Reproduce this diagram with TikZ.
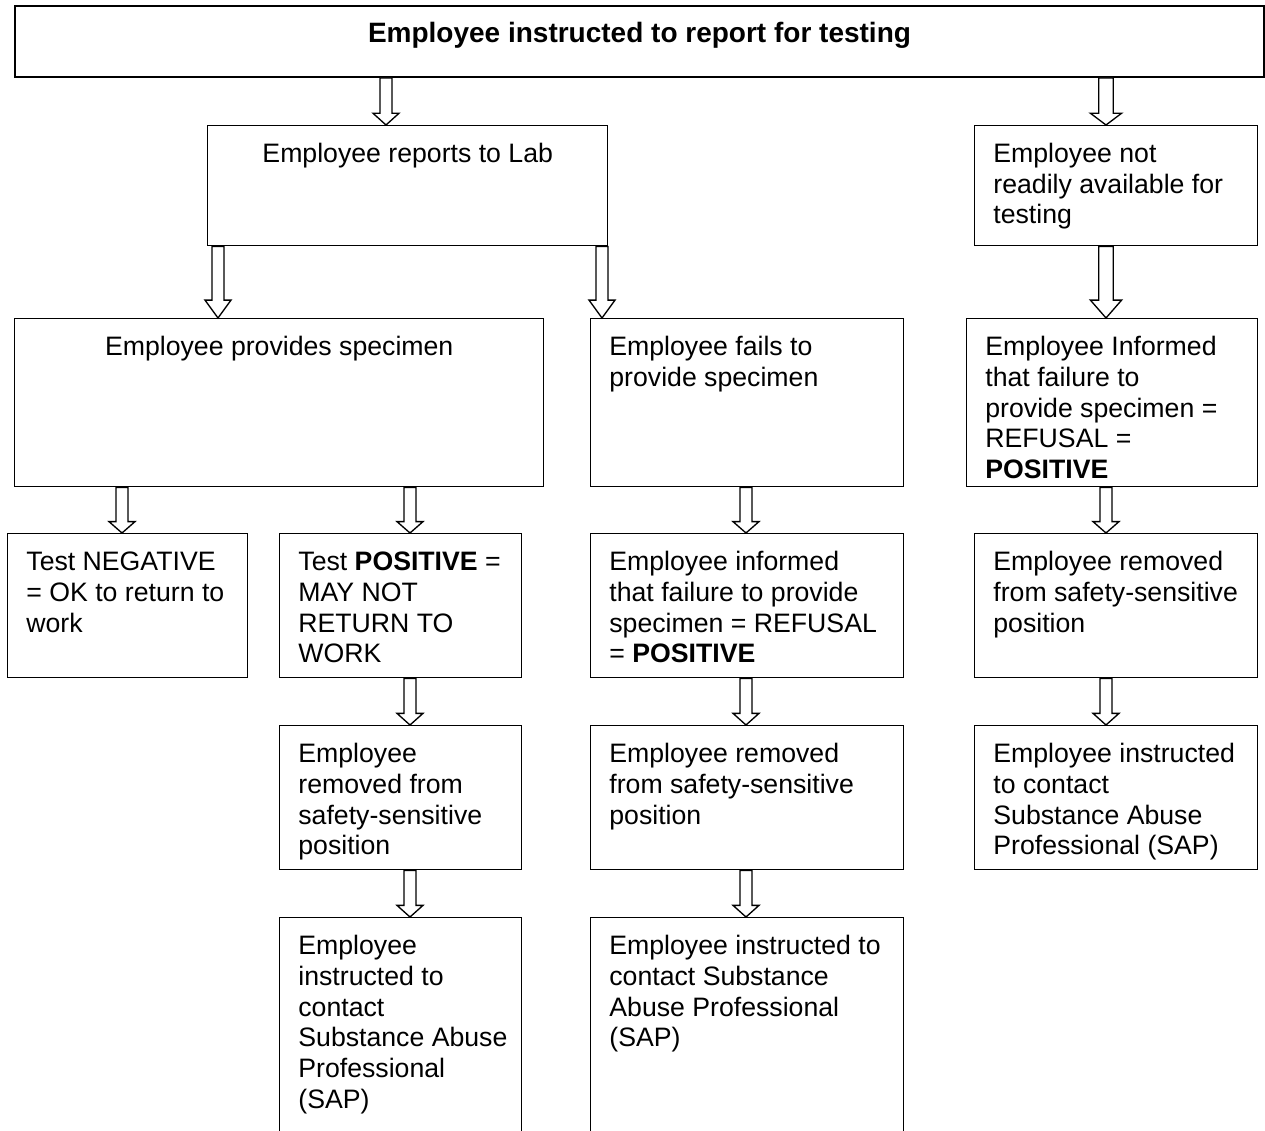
\documentclass[tikz,border=0pt]{standalone}
\usepackage{fontspec}
\setmainfont{Liberation Sans}
\usetikzlibrary{calc}

% text of one box: [align]{width px}{height px}{lines}
\newcommand{\boxtext}[4][l]{%
	\parbox[t][\dimexpr#3pt*3/4\relax][t]{\dimexpr#2pt*3/4-28pt\relax}{%
		\vspace*{11.6pt}%
		\ifx l#1\raggedright\else\centering\fi
		\begin{tabular}[t]{@{}#1@{}}#4\end{tabular}}}

% hollow block arrow: [width factor]{upper box}{lower box}{x px}
\newcommand{\blockarr}[4][1]{%
	\path[blockarrow] let \p1=(#4,0 |- #2.south), \p2=(#4,0 |- #3.north),
	\n1={(\y1-\y2)/4}, \n2={4.5pt*#1}, \n3={9.75pt*#1} in
	(\x1-\n2,\y1) -- (\x1-\n2,\y2+\n1) -- (\x1-\n3,\y2+\n1) -- (\x2,\y2)
	-- (\x1+\n3,\y2+\n1) -- (\x1+\n2,\y2+\n1) -- (\x1+\n2,\y1) -- cycle;}

\tikzset{
	stepbox/.style={draw, line width=1.1pt, anchor=north west,
		inner xsep=14pt, inner ysep=0pt, font=\fontsize{20}{23}\selectfont},
	blockarrow/.style={draw, fill=white, line width=1pt, line join=miter}
}

\begin{document}
\begin{tikzpicture}[x=0.75pt, y=-0.75pt]
	
	% ----------------------------
	% 0) Canvas (pixel grid, y down)
	% ----------------------------
	\useasboundingbox (0,0) rectangle (1265,1131);
	\clip (0,0) rectangle (1265,1131);
	
	% ----------------------------
	% 1) Title box
	% ----------------------------
	\node[stepbox, line width=1.5pt, font=\fontsize{21}{23}\selectfont] (top) at (14,5)
	{\boxtext[c]{1249}{71}{\textbf{Employee instructed to report for testing}}};
	
	% ----------------------------
	% 2) Lab / not available
	% ----------------------------
	\node[stepbox] (lab) at (207,125) {\boxtext[c]{400}{120}{Employee reports to Lab}};
	\node[stepbox] (away) at (974,125)
	{\boxtext{283}{120}{Employee not\\readily available for\\testing}};
	
	% ----------------------------
	% 3) Specimen given / not given
	% ----------------------------
	\node[stepbox] (gives) at (14,318) {\boxtext[c]{529}{168}{Employee provides specimen}};
	\node[stepbox] (fails) at (590,318) {\boxtext{313}{168}{Employee fails to\\provide specimen}};
	\node[stepbox] (toldR) at (966,318)
	{\boxtext{291}{168}{Employee Informed\\that failure to\\provide specimen =\\REFUSAL =\\\textbf{POSITIVE}}};
	
	% ----------------------------
	% 4) Results
	% ----------------------------
	\node[stepbox] (neg) at (7,533)
	{\boxtext{240}{144}{Test NEGATIVE\\= OK to return to\\work}};
	\node[stepbox] (pos) at (279,533)
	{\boxtext{242}{144}{Test \textbf{POSITIVE} =\\MAY NOT\\RETURN TO\\WORK}};
	\node[stepbox] (toldM) at (590,533)
	{\boxtext{313}{144}{Employee informed\\that failure to provide\\specimen = REFUSAL\\= \textbf{POSITIVE}}};
	\node[stepbox] (offR) at (974,533)
	{\boxtext{283}{144}{Employee removed\\from safety-sensitive\\position}};
	
	% ----------------------------
	% 5) Removed / SAP
	% ----------------------------
	\node[stepbox] (offL) at (279,725)
	{\boxtext{242}{144}{Employee\\removed from\\safety-sensitive\\position}};
	\node[stepbox] (offM) at (590,725)
	{\boxtext{313}{144}{Employee removed\\from safety-sensitive\\position}};
	\node[stepbox] (sapR) at (974,725)
	{\boxtext{283}{144}{Employee instructed\\to contact\\Substance Abuse\\Professional (SAP)}};
	
	% ----------------------------
	% 6) SAP (cut at the bottom)
	% ----------------------------
	\node[stepbox] (sapL) at (279,917)
	{\boxtext{242}{260}{Employee\\instructed to\\contact\\Substance Abuse\\Professional\\(SAP)}};
	\node[stepbox] (sapM) at (590,917)
	{\boxtext{313}{260}{Employee instructed to\\contact Substance\\Abuse Professional\\(SAP)}};
	
	% ----------------------------
	% 7) Block arrows
	% ----------------------------
	\foreach \src/\dst/\pos/\w in {
		top/lab/386/1, top/away/1106/1.2,
		lab/gives/218/1, lab/fails/602/1, away/toldR/1106/1.2,
		gives/neg/122/1, gives/pos/410/1, fails/toldM/746/1, toldR/offR/1106/1,
		pos/offL/410/1, toldM/offM/746/1, offR/sapR/1106/1,
		offL/sapL/410/1, offM/sapM/746/1
	}{
		\blockarr[\w]{\src}{\dst}{\pos}
	}
	
\end{tikzpicture}
\end{document}
